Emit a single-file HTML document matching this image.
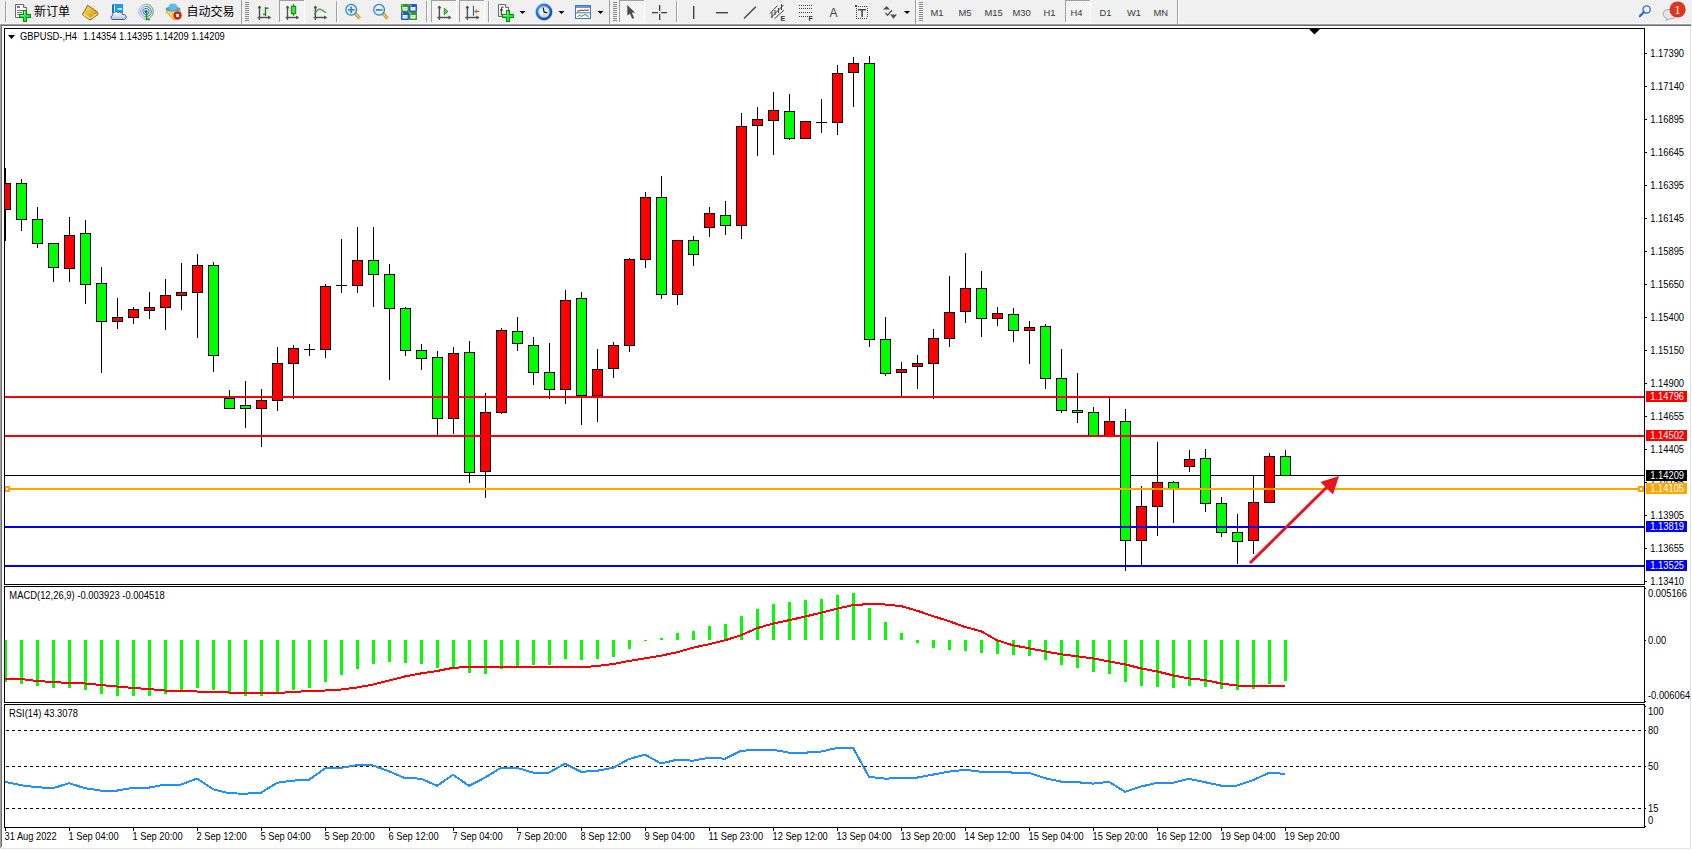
<!DOCTYPE html>
<html><head><meta charset="utf-8"><title>MT4 GBPUSD H4</title>
<style>
html,body{margin:0;padding:0;}
body{width:1692px;height:850px;overflow:hidden;background:#f0f0f0;position:relative;font-family:'Liberation Sans', Arial, sans-serif;}
</style></head><body>
<svg width="1692" height="850" viewBox="0 0 1692 850" shape-rendering="crispEdges" style="position:absolute;left:0;top:0">
<defs><clipPath id="cmain"><rect x="5" y="29" width="1639" height="555"/></clipPath>
<clipPath id="cmacd"><rect x="5" y="587" width="1639" height="115"/></clipPath>
<clipPath id="crsi"><rect x="5" y="705" width="1639" height="122"/></clipPath></defs>
<rect x="0" y="23" width="1691" height="1" fill="#f8f8f8"/><rect x="0" y="24" width="1691" height="1" fill="#a0a0a0"/><rect x="0" y="25" width="1691" height="1" fill="#6e6e6e"/><rect x="2" y="26" width="1690" height="824" fill="#ffffff"/><rect x="0" y="25" width="1" height="823" fill="#a0a0a0"/><rect x="1" y="25" width="1" height="822" fill="#6e6e6e"/><rect x="1690" y="26" width="1" height="823" fill="#e3e3e3"/><rect x="2" y="848" width="1689" height="1" fill="#e3e3e3"/>
<rect x="5" y="475" width="1639" height="1" fill="#000000"/><g clip-path="url(#cmain)"><rect x="5" y="168" width="1" height="73" fill="#000"/><rect x="0" y="183" width="11" height="27" fill="#000"/><rect x="1" y="184" width="9" height="25" fill="#ff0000"/><rect x="21" y="179" width="1" height="52" fill="#000"/><rect x="16" y="183" width="11" height="37" fill="#000"/><rect x="17" y="184" width="9" height="35" fill="#00ff00"/><rect x="37" y="207" width="1" height="41" fill="#000"/><rect x="32" y="219" width="11" height="25" fill="#000"/><rect x="33" y="220" width="9" height="23" fill="#00ff00"/><rect x="53" y="243" width="1" height="39" fill="#000"/><rect x="48" y="243" width="11" height="25" fill="#000"/><rect x="49" y="244" width="9" height="23" fill="#00ff00"/><rect x="69" y="217" width="1" height="65" fill="#000"/><rect x="64" y="235" width="11" height="34" fill="#000"/><rect x="65" y="236" width="9" height="32" fill="#ff0000"/><rect x="85" y="220" width="1" height="84" fill="#000"/><rect x="80" y="233" width="11" height="52" fill="#000"/><rect x="81" y="234" width="9" height="50" fill="#00ff00"/><rect x="101" y="267" width="1" height="106" fill="#000"/><rect x="96" y="283" width="11" height="39" fill="#000"/><rect x="97" y="284" width="9" height="37" fill="#00ff00"/><rect x="117" y="298" width="1" height="31" fill="#000"/><rect x="112" y="317" width="11" height="5" fill="#000"/><rect x="113" y="318" width="9" height="3" fill="#ff0000"/><rect x="133" y="307" width="1" height="17" fill="#000"/><rect x="128" y="309" width="11" height="9" fill="#000"/><rect x="129" y="310" width="9" height="7" fill="#ff0000"/><rect x="149" y="292" width="1" height="27" fill="#000"/><rect x="144" y="307" width="11" height="4" fill="#000"/><rect x="145" y="308" width="9" height="2" fill="#ff0000"/><rect x="165" y="279" width="1" height="51" fill="#000"/><rect x="160" y="295" width="11" height="13" fill="#000"/><rect x="161" y="296" width="9" height="11" fill="#ff0000"/><rect x="181" y="263" width="1" height="47" fill="#000"/><rect x="176" y="292" width="11" height="4" fill="#000"/><rect x="177" y="293" width="9" height="2" fill="#ff0000"/><rect x="197" y="254" width="1" height="84" fill="#000"/><rect x="192" y="265" width="11" height="28" fill="#000"/><rect x="193" y="266" width="9" height="26" fill="#ff0000"/><rect x="213" y="262" width="1" height="110" fill="#000"/><rect x="208" y="265" width="11" height="91" fill="#000"/><rect x="209" y="266" width="9" height="89" fill="#00ff00"/><rect x="229" y="390" width="1" height="19" fill="#000"/><rect x="224" y="398" width="11" height="11" fill="#000"/><rect x="225" y="399" width="9" height="9" fill="#00ff00"/><rect x="245" y="381" width="1" height="47" fill="#000"/><rect x="240" y="405" width="11" height="4" fill="#000"/><rect x="241" y="406" width="9" height="2" fill="#00ff00"/><rect x="261" y="389" width="1" height="58" fill="#000"/><rect x="256" y="400" width="11" height="9" fill="#000"/><rect x="257" y="401" width="9" height="7" fill="#ff0000"/><rect x="277" y="347" width="1" height="64" fill="#000"/><rect x="272" y="363" width="11" height="38" fill="#000"/><rect x="273" y="364" width="9" height="36" fill="#ff0000"/><rect x="293" y="345" width="1" height="54" fill="#000"/><rect x="288" y="348" width="11" height="16" fill="#000"/><rect x="289" y="349" width="9" height="14" fill="#ff0000"/><rect x="309" y="344" width="1" height="12" fill="#000"/><rect x="304" y="349" width="11" height="1" fill="#000"/><rect x="325" y="284" width="1" height="74" fill="#000"/><rect x="320" y="286" width="11" height="64" fill="#000"/><rect x="321" y="287" width="9" height="62" fill="#ff0000"/><rect x="341" y="239" width="1" height="54" fill="#000"/><rect x="336" y="285" width="11" height="1" fill="#000"/><rect x="357" y="227" width="1" height="66" fill="#000"/><rect x="352" y="260" width="11" height="26" fill="#000"/><rect x="353" y="261" width="9" height="24" fill="#ff0000"/><rect x="373" y="227" width="1" height="80" fill="#000"/><rect x="368" y="260" width="11" height="15" fill="#000"/><rect x="369" y="261" width="9" height="13" fill="#00ff00"/><rect x="389" y="264" width="1" height="116" fill="#000"/><rect x="384" y="274" width="11" height="35" fill="#000"/><rect x="385" y="275" width="9" height="33" fill="#00ff00"/><rect x="405" y="307" width="1" height="49" fill="#000"/><rect x="400" y="308" width="11" height="43" fill="#000"/><rect x="401" y="309" width="9" height="41" fill="#00ff00"/><rect x="421" y="344" width="1" height="26" fill="#000"/><rect x="416" y="350" width="11" height="9" fill="#000"/><rect x="417" y="351" width="9" height="7" fill="#00ff00"/><rect x="437" y="351" width="1" height="84" fill="#000"/><rect x="432" y="357" width="11" height="62" fill="#000"/><rect x="433" y="358" width="9" height="60" fill="#00ff00"/><rect x="453" y="347" width="1" height="87" fill="#000"/><rect x="448" y="353" width="11" height="66" fill="#000"/><rect x="449" y="354" width="9" height="64" fill="#ff0000"/><rect x="469" y="341" width="1" height="142" fill="#000"/><rect x="464" y="352" width="11" height="121" fill="#000"/><rect x="465" y="353" width="9" height="119" fill="#00ff00"/><rect x="485" y="393" width="1" height="105" fill="#000"/><rect x="480" y="412" width="11" height="60" fill="#000"/><rect x="481" y="413" width="9" height="58" fill="#ff0000"/><rect x="501" y="328" width="1" height="86" fill="#000"/><rect x="496" y="330" width="11" height="83" fill="#000"/><rect x="497" y="331" width="9" height="81" fill="#ff0000"/><rect x="517" y="317" width="1" height="34" fill="#000"/><rect x="512" y="331" width="11" height="13" fill="#000"/><rect x="513" y="332" width="9" height="11" fill="#00ff00"/><rect x="533" y="337" width="1" height="48" fill="#000"/><rect x="528" y="345" width="11" height="28" fill="#000"/><rect x="529" y="346" width="9" height="26" fill="#00ff00"/><rect x="549" y="343" width="1" height="56" fill="#000"/><rect x="544" y="372" width="11" height="18" fill="#000"/><rect x="545" y="373" width="9" height="16" fill="#00ff00"/><rect x="565" y="290" width="1" height="114" fill="#000"/><rect x="560" y="300" width="11" height="90" fill="#000"/><rect x="561" y="301" width="9" height="88" fill="#ff0000"/><rect x="581" y="292" width="1" height="133" fill="#000"/><rect x="576" y="298" width="11" height="98" fill="#000"/><rect x="577" y="299" width="9" height="96" fill="#00ff00"/><rect x="597" y="349" width="1" height="73" fill="#000"/><rect x="592" y="369" width="11" height="27" fill="#000"/><rect x="593" y="370" width="9" height="25" fill="#ff0000"/><rect x="613" y="342" width="1" height="36" fill="#000"/><rect x="608" y="345" width="11" height="24" fill="#000"/><rect x="609" y="346" width="9" height="22" fill="#ff0000"/><rect x="629" y="258" width="1" height="94" fill="#000"/><rect x="624" y="259" width="11" height="87" fill="#000"/><rect x="625" y="260" width="9" height="85" fill="#ff0000"/><rect x="645" y="192" width="1" height="76" fill="#000"/><rect x="640" y="197" width="11" height="63" fill="#000"/><rect x="641" y="198" width="9" height="61" fill="#ff0000"/><rect x="661" y="176" width="1" height="123" fill="#000"/><rect x="656" y="197" width="11" height="98" fill="#000"/><rect x="657" y="198" width="9" height="96" fill="#00ff00"/><rect x="677" y="240" width="1" height="65" fill="#000"/><rect x="672" y="240" width="11" height="55" fill="#000"/><rect x="673" y="241" width="9" height="53" fill="#ff0000"/><rect x="693" y="236" width="1" height="30" fill="#000"/><rect x="688" y="240" width="11" height="15" fill="#000"/><rect x="689" y="241" width="9" height="13" fill="#00ff00"/><rect x="709" y="207" width="1" height="30" fill="#000"/><rect x="704" y="213" width="11" height="15" fill="#000"/><rect x="705" y="214" width="9" height="13" fill="#ff0000"/><rect x="725" y="201" width="1" height="34" fill="#000"/><rect x="720" y="215" width="11" height="11" fill="#000"/><rect x="721" y="216" width="9" height="9" fill="#00ff00"/><rect x="741" y="113" width="1" height="126" fill="#000"/><rect x="736" y="126" width="11" height="100" fill="#000"/><rect x="737" y="127" width="9" height="98" fill="#ff0000"/><rect x="757" y="107" width="1" height="49" fill="#000"/><rect x="752" y="119" width="11" height="7" fill="#000"/><rect x="753" y="120" width="9" height="5" fill="#ff0000"/><rect x="773" y="92" width="1" height="63" fill="#000"/><rect x="768" y="110" width="11" height="11" fill="#000"/><rect x="769" y="111" width="9" height="9" fill="#ff0000"/><rect x="789" y="94" width="1" height="46" fill="#000"/><rect x="784" y="111" width="11" height="28" fill="#000"/><rect x="785" y="112" width="9" height="26" fill="#00ff00"/><rect x="805" y="121" width="1" height="18" fill="#000"/><rect x="800" y="121" width="11" height="18" fill="#000"/><rect x="801" y="122" width="9" height="16" fill="#ff0000"/><rect x="821" y="99" width="1" height="34" fill="#000"/><rect x="816" y="122" width="11" height="1" fill="#000"/><rect x="837" y="65" width="1" height="70" fill="#000"/><rect x="832" y="73" width="11" height="50" fill="#000"/><rect x="833" y="74" width="9" height="48" fill="#ff0000"/><rect x="853" y="57" width="1" height="50" fill="#000"/><rect x="848" y="63" width="11" height="10" fill="#000"/><rect x="849" y="64" width="9" height="8" fill="#ff0000"/><rect x="869" y="56" width="1" height="291" fill="#000"/><rect x="864" y="63" width="11" height="277" fill="#000"/><rect x="865" y="64" width="9" height="275" fill="#00ff00"/><rect x="885" y="317" width="1" height="59" fill="#000"/><rect x="880" y="339" width="11" height="35" fill="#000"/><rect x="881" y="340" width="9" height="33" fill="#00ff00"/><rect x="901" y="362" width="1" height="35" fill="#000"/><rect x="896" y="369" width="11" height="4" fill="#000"/><rect x="897" y="370" width="9" height="2" fill="#ff0000"/><rect x="917" y="355" width="1" height="34" fill="#000"/><rect x="912" y="363" width="11" height="4" fill="#000"/><rect x="913" y="364" width="9" height="2" fill="#ff0000"/><rect x="933" y="329" width="1" height="70" fill="#000"/><rect x="928" y="338" width="11" height="26" fill="#000"/><rect x="929" y="339" width="9" height="24" fill="#ff0000"/><rect x="949" y="276" width="1" height="71" fill="#000"/><rect x="944" y="312" width="11" height="27" fill="#000"/><rect x="945" y="313" width="9" height="25" fill="#ff0000"/><rect x="965" y="253" width="1" height="70" fill="#000"/><rect x="960" y="288" width="11" height="24" fill="#000"/><rect x="961" y="289" width="9" height="22" fill="#ff0000"/><rect x="981" y="271" width="1" height="66" fill="#000"/><rect x="976" y="288" width="11" height="31" fill="#000"/><rect x="977" y="289" width="9" height="29" fill="#00ff00"/><rect x="997" y="307" width="1" height="19" fill="#000"/><rect x="992" y="313" width="11" height="6" fill="#000"/><rect x="993" y="314" width="9" height="4" fill="#ff0000"/><rect x="1013" y="308" width="1" height="34" fill="#000"/><rect x="1008" y="314" width="11" height="17" fill="#000"/><rect x="1009" y="315" width="9" height="15" fill="#00ff00"/><rect x="1029" y="321" width="1" height="43" fill="#000"/><rect x="1024" y="327" width="11" height="4" fill="#000"/><rect x="1025" y="328" width="9" height="2" fill="#ff0000"/><rect x="1045" y="324" width="1" height="65" fill="#000"/><rect x="1040" y="326" width="11" height="53" fill="#000"/><rect x="1041" y="327" width="9" height="51" fill="#00ff00"/><rect x="1061" y="349" width="1" height="64" fill="#000"/><rect x="1056" y="378" width="11" height="33" fill="#000"/><rect x="1057" y="379" width="9" height="31" fill="#00ff00"/><rect x="1077" y="373" width="1" height="50" fill="#000"/><rect x="1072" y="410" width="11" height="3" fill="#000"/><rect x="1073" y="411" width="9" height="1" fill="#00ff00"/><rect x="1093" y="407" width="1" height="30" fill="#000"/><rect x="1088" y="412" width="11" height="25" fill="#000"/><rect x="1089" y="413" width="9" height="23" fill="#00ff00"/><rect x="1109" y="398" width="1" height="39" fill="#000"/><rect x="1104" y="421" width="11" height="16" fill="#000"/><rect x="1105" y="422" width="9" height="14" fill="#ff0000"/><rect x="1125" y="409" width="1" height="162" fill="#000"/><rect x="1120" y="421" width="11" height="120" fill="#000"/><rect x="1121" y="422" width="9" height="118" fill="#00ff00"/><rect x="1141" y="486" width="1" height="80" fill="#000"/><rect x="1136" y="506" width="11" height="35" fill="#000"/><rect x="1137" y="507" width="9" height="33" fill="#ff0000"/><rect x="1157" y="442" width="1" height="94" fill="#000"/><rect x="1152" y="482" width="11" height="25" fill="#000"/><rect x="1153" y="483" width="9" height="23" fill="#ff0000"/><rect x="1173" y="481" width="1" height="42" fill="#000"/><rect x="1168" y="482" width="11" height="7" fill="#000"/><rect x="1169" y="483" width="9" height="5" fill="#00ff00"/><rect x="1189" y="450" width="1" height="22" fill="#000"/><rect x="1184" y="459" width="11" height="8" fill="#000"/><rect x="1185" y="460" width="9" height="6" fill="#ff0000"/><rect x="1205" y="449" width="1" height="63" fill="#000"/><rect x="1200" y="458" width="11" height="46" fill="#000"/><rect x="1201" y="459" width="9" height="44" fill="#00ff00"/><rect x="1221" y="497" width="1" height="40" fill="#000"/><rect x="1216" y="503" width="11" height="30" fill="#000"/><rect x="1217" y="504" width="9" height="28" fill="#00ff00"/><rect x="1237" y="514" width="1" height="50" fill="#000"/><rect x="1232" y="532" width="11" height="10" fill="#000"/><rect x="1233" y="533" width="9" height="8" fill="#00ff00"/><rect x="1253" y="475" width="1" height="79" fill="#000"/><rect x="1248" y="502" width="11" height="39" fill="#000"/><rect x="1249" y="503" width="9" height="37" fill="#ff0000"/><rect x="1269" y="453" width="1" height="50" fill="#000"/><rect x="1264" y="456" width="11" height="47" fill="#000"/><rect x="1265" y="457" width="9" height="45" fill="#ff0000"/><rect x="1285" y="450" width="1" height="26" fill="#000"/><rect x="1280" y="456" width="11" height="20" fill="#000"/><rect x="1281" y="457" width="9" height="18" fill="#00ff00"/></g><rect x="5" y="396" width="1640" height="2" fill="#ff0000"/><rect x="5" y="435" width="1640" height="2" fill="#ff0000"/><rect x="5" y="488" width="1640" height="2" fill="#ffa500"/><rect x="5" y="526" width="1640" height="2" fill="#0000ff"/><rect x="5" y="565" width="1640" height="2" fill="#0000ff"/><rect x="4" y="486" width="6" height="6" fill="#ffa500"/><rect x="6" y="488" width="2" height="2" fill="#ffffff"/><rect x="1638" y="486" width="6" height="6" fill="#ffa500"/><rect x="1640" y="488" width="2" height="2" fill="#ffffff"/><g shape-rendering="auto"><line x1="1250" y1="563" x2="1327" y2="487" stroke="#e8141e" stroke-width="3" stroke-linecap="butt"/><polygon points="1339,476 1320.5,482 1333,494.5" fill="#e8141e"/></g><polygon points="1309,29 1320,29 1314.5,34.5" fill="#000" shape-rendering="auto"/>
<g clip-path="url(#cmacd)"><rect x="4" y="640" width="3" height="42" fill="#00ff00"/><rect x="20" y="640" width="3" height="44" fill="#00ff00"/><rect x="36" y="640" width="3" height="46" fill="#00ff00"/><rect x="52" y="640" width="3" height="48" fill="#00ff00"/><rect x="68" y="640" width="3" height="48" fill="#00ff00"/><rect x="84" y="640" width="3" height="50" fill="#00ff00"/><rect x="100" y="640" width="3" height="54" fill="#00ff00"/><rect x="116" y="640" width="3" height="56" fill="#00ff00"/><rect x="132" y="640" width="3" height="56" fill="#00ff00"/><rect x="148" y="640" width="3" height="56" fill="#00ff00"/><rect x="164" y="640" width="3" height="54" fill="#00ff00"/><rect x="180" y="640" width="3" height="50" fill="#00ff00"/><rect x="196" y="640" width="3" height="48" fill="#00ff00"/><rect x="212" y="640" width="3" height="50" fill="#00ff00"/><rect x="228" y="640" width="3" height="54" fill="#00ff00"/><rect x="244" y="640" width="3" height="56" fill="#00ff00"/><rect x="260" y="640" width="3" height="56" fill="#00ff00"/><rect x="276" y="640" width="3" height="54" fill="#00ff00"/><rect x="292" y="640" width="3" height="50" fill="#00ff00"/><rect x="308" y="640" width="3" height="48" fill="#00ff00"/><rect x="324" y="640" width="3" height="42" fill="#00ff00"/><rect x="340" y="640" width="3" height="35" fill="#00ff00"/><rect x="356" y="640" width="3" height="29" fill="#00ff00"/><rect x="372" y="640" width="3" height="24" fill="#00ff00"/><rect x="388" y="640" width="3" height="22" fill="#00ff00"/><rect x="404" y="640" width="3" height="23" fill="#00ff00"/><rect x="420" y="640" width="3" height="24" fill="#00ff00"/><rect x="436" y="640" width="3" height="28" fill="#00ff00"/><rect x="452" y="640" width="3" height="27" fill="#00ff00"/><rect x="468" y="640" width="3" height="33" fill="#00ff00"/><rect x="484" y="640" width="3" height="34" fill="#00ff00"/><rect x="500" y="640" width="3" height="29" fill="#00ff00"/><rect x="516" y="640" width="3" height="26" fill="#00ff00"/><rect x="532" y="640" width="3" height="25" fill="#00ff00"/><rect x="548" y="640" width="3" height="25" fill="#00ff00"/><rect x="564" y="640" width="3" height="19" fill="#00ff00"/><rect x="580" y="640" width="3" height="20" fill="#00ff00"/><rect x="596" y="640" width="3" height="19" fill="#00ff00"/><rect x="612" y="640" width="3" height="17" fill="#00ff00"/><rect x="628" y="640" width="3" height="9" fill="#00ff00"/><rect x="644" y="640" width="3" height="1" fill="#00ff00"/><rect x="660" y="638" width="3" height="2" fill="#00ff00"/><rect x="676" y="633" width="3" height="7" fill="#00ff00"/><rect x="692" y="631" width="3" height="9" fill="#00ff00"/><rect x="708" y="626" width="3" height="14" fill="#00ff00"/><rect x="724" y="624" width="3" height="16" fill="#00ff00"/><rect x="740" y="616" width="3" height="24" fill="#00ff00"/><rect x="756" y="609" width="3" height="31" fill="#00ff00"/><rect x="772" y="604" width="3" height="36" fill="#00ff00"/><rect x="788" y="602" width="3" height="38" fill="#00ff00"/><rect x="804" y="600" width="3" height="40" fill="#00ff00"/><rect x="820" y="599" width="3" height="41" fill="#00ff00"/><rect x="836" y="595" width="3" height="45" fill="#00ff00"/><rect x="852" y="593" width="3" height="47" fill="#00ff00"/><rect x="868" y="608" width="3" height="32" fill="#00ff00"/><rect x="884" y="622" width="3" height="18" fill="#00ff00"/><rect x="900" y="633" width="3" height="7" fill="#00ff00"/><rect x="916" y="640" width="3" height="3" fill="#00ff00"/><rect x="932" y="640" width="3" height="8" fill="#00ff00"/><rect x="948" y="640" width="3" height="10" fill="#00ff00"/><rect x="964" y="640" width="3" height="11" fill="#00ff00"/><rect x="980" y="640" width="3" height="13" fill="#00ff00"/><rect x="996" y="640" width="3" height="14" fill="#00ff00"/><rect x="1012" y="640" width="3" height="15" fill="#00ff00"/><rect x="1028" y="640" width="3" height="16" fill="#00ff00"/><rect x="1044" y="640" width="3" height="20" fill="#00ff00"/><rect x="1060" y="640" width="3" height="25" fill="#00ff00"/><rect x="1076" y="640" width="3" height="28" fill="#00ff00"/><rect x="1092" y="640" width="3" height="32" fill="#00ff00"/><rect x="1108" y="640" width="3" height="34" fill="#00ff00"/><rect x="1124" y="640" width="3" height="42" fill="#00ff00"/><rect x="1140" y="640" width="3" height="46" fill="#00ff00"/><rect x="1156" y="640" width="3" height="47" fill="#00ff00"/><rect x="1172" y="640" width="3" height="48" fill="#00ff00"/><rect x="1188" y="640" width="3" height="46" fill="#00ff00"/><rect x="1204" y="640" width="3" height="47" fill="#00ff00"/><rect x="1220" y="640" width="3" height="49" fill="#00ff00"/><rect x="1236" y="640" width="3" height="50" fill="#00ff00"/><rect x="1252" y="640" width="3" height="49" fill="#00ff00"/><rect x="1268" y="640" width="3" height="44" fill="#00ff00"/><rect x="1284" y="640" width="3" height="41" fill="#00ff00"/><polyline points="5,678.8 21,679.0 37,681.0 53,682.0 69,683.0 85,683.5 101,685.0 117,686.5 133,688.0 149,689.0 165,690.5 181,691.0 197,691.5 213,692.0 229,692.5 245,692.5 261,693.0 277,693.0 293,692.0 309,691.0 325,690.5 341,689.5 357,687.5 373,684.5 389,680.5 405,676.4 421,673.4 437,671.0 453,667.8 469,667.0 485,666.6 501,667.4 517,667.4 533,667.4 549,667.4 565,667.4 581,667.4 597,666.0 613,664.0 629,661.0 645,658.4 661,655.7 677,652.3 693,647.7 709,644.3 725,640.3 741,635.2 757,628.2 773,623.6 789,620.2 805,616.6 821,612.7 837,608.7 853,605.1 869,604.1 885,604.5 901,606.1 917,610.7 933,616.1 949,621.2 965,627.0 981,631.2 997,640.3 1013,645.3 1029,648.3 1045,651.3 1061,654.3 1077,656.3 1093,658.4 1109,661.4 1125,664.4 1141,668.4 1157,671.4 1173,675.4 1189,678.4 1205,680.0 1221,683.5 1237,685.5 1253,685.9 1269,685.9 1285,685.9" fill="none" stroke="#ff0000" stroke-width="2" shape-rendering="crispEdges"/></g>
<g clip-path="url(#crsi)"><line x1="6" y1="730.5" x2="1642" y2="730.5" stroke="#000" stroke-width="1" stroke-dasharray="3 3"/><line x1="6" y1="766.5" x2="1642" y2="766.5" stroke="#000" stroke-width="1" stroke-dasharray="3 3"/><line x1="6" y1="808.5" x2="1642" y2="808.5" stroke="#000" stroke-width="1" stroke-dasharray="3 3"/><polyline points="5,781.8 21,785.2 37,787.2 53,788.2 69,783.2 85,788.2 101,790.6 117,790.6 133,787.8 149,787.6 165,784.6 181,784.6 197,778.6 213,789.2 229,793.3 245,793.7 261,792.7 277,782.8 293,780.6 309,779.8 325,768.5 341,767.8 357,765.1 373,765.5 389,771.2 405,778.2 421,778.6 437,785.8 453,774.8 469,785.8 485,777.6 501,767.8 517,767.8 533,772.6 549,772.6 565,763.7 581,771.8 597,770.8 613,767.8 629,759.1 645,754.6 661,763.5 677,759.7 693,760.7 709,757.7 725,758.7 741,750.7 757,750.1 773,749.7 789,752.7 805,752.7 821,751.5 837,748.1 853,747.7 869,776.8 885,778.6 901,778.2 917,777.6 933,774.6 949,771.6 965,769.8 981,771.8 997,771.6 1013,772.6 1029,772.8 1045,778.2 1061,781.6 1077,782.2 1093,783.6 1109,781.8 1125,791.8 1141,786.6 1157,782.8 1173,782.8 1189,778.8 1205,782.2 1221,785.6 1237,785.6 1253,780.2 1269,772.8 1285,773.8" fill="none" stroke="#1e90ff" stroke-width="2" shape-rendering="crispEdges"/></g>
<rect x="4" y="28" width="1641" height="1" fill="#000"/><rect x="4" y="584" width="1641" height="1" fill="#000"/><rect x="4" y="28" width="1" height="557" fill="#000"/><rect x="1644" y="28" width="1" height="557" fill="#000"/><rect x="4" y="586" width="1641" height="1" fill="#000"/><rect x="4" y="702" width="1641" height="1" fill="#000"/><rect x="4" y="586" width="1" height="117" fill="#000"/><rect x="1644" y="586" width="1" height="117" fill="#000"/><rect x="4" y="704" width="1641" height="1" fill="#000"/><rect x="4" y="827" width="1641" height="1" fill="#000"/><rect x="4" y="704" width="1" height="124" fill="#000"/><rect x="1644" y="704" width="1" height="124" fill="#000"/>
<rect x="1645" y="53" width="2" height="1" fill="#000"/><rect x="1645" y="86" width="2" height="1" fill="#000"/><rect x="1645" y="119" width="2" height="1" fill="#000"/><rect x="1645" y="152" width="2" height="1" fill="#000"/><rect x="1645" y="185" width="2" height="1" fill="#000"/><rect x="1645" y="218" width="2" height="1" fill="#000"/><rect x="1645" y="251" width="2" height="1" fill="#000"/><rect x="1645" y="284" width="2" height="1" fill="#000"/><rect x="1645" y="317" width="2" height="1" fill="#000"/><rect x="1645" y="350" width="2" height="1" fill="#000"/><rect x="1645" y="383" width="2" height="1" fill="#000"/><rect x="1645" y="416" width="2" height="1" fill="#000"/><rect x="1645" y="449" width="2" height="1" fill="#000"/><rect x="1645" y="482" width="2" height="1" fill="#000"/><rect x="1645" y="515" width="2" height="1" fill="#000"/><rect x="1645" y="548" width="2" height="1" fill="#000"/><rect x="1645" y="581" width="2" height="1" fill="#000"/><rect x="1645" y="588" width="1" height="1" fill="#000"/><rect x="1645" y="640" width="1" height="1" fill="#000"/><rect x="1645" y="701" width="1" height="1" fill="#000"/><rect x="1645" y="706" width="1" height="1" fill="#000"/><rect x="1645" y="730" width="1" height="1" fill="#000"/><rect x="1645" y="766" width="1" height="1" fill="#000"/><rect x="1645" y="808" width="1" height="1" fill="#000"/><rect x="1645" y="826" width="1" height="1" fill="#000"/><rect x="5" y="828" width="1" height="3" fill="#000"/><rect x="69" y="828" width="1" height="3" fill="#000"/><rect x="133" y="828" width="1" height="3" fill="#000"/><rect x="197" y="828" width="1" height="3" fill="#000"/><rect x="261" y="828" width="1" height="3" fill="#000"/><rect x="325" y="828" width="1" height="3" fill="#000"/><rect x="389" y="828" width="1" height="3" fill="#000"/><rect x="453" y="828" width="1" height="3" fill="#000"/><rect x="517" y="828" width="1" height="3" fill="#000"/><rect x="581" y="828" width="1" height="3" fill="#000"/><rect x="645" y="828" width="1" height="3" fill="#000"/><rect x="709" y="828" width="1" height="3" fill="#000"/><rect x="773" y="828" width="1" height="3" fill="#000"/><rect x="837" y="828" width="1" height="3" fill="#000"/><rect x="901" y="828" width="1" height="3" fill="#000"/><rect x="965" y="828" width="1" height="3" fill="#000"/><rect x="1029" y="828" width="1" height="3" fill="#000"/><rect x="1093" y="828" width="1" height="3" fill="#000"/><rect x="1157" y="828" width="1" height="3" fill="#000"/><rect x="1221" y="828" width="1" height="3" fill="#000"/><rect x="1285" y="828" width="1" height="3" fill="#000"/>
<g font-family="'Liberation Sans', Arial, sans-serif" font-size="10px"><text transform="matrix(0.935,0,0,1,1650.3,57)" fill="#000">1.17390</text><text transform="matrix(0.935,0,0,1,1650.3,90)" fill="#000">1.17140</text><text transform="matrix(0.935,0,0,1,1650.3,123)" fill="#000">1.16895</text><text transform="matrix(0.935,0,0,1,1650.3,156)" fill="#000">1.16645</text><text transform="matrix(0.935,0,0,1,1650.3,189)" fill="#000">1.16395</text><text transform="matrix(0.935,0,0,1,1650.3,222)" fill="#000">1.16145</text><text transform="matrix(0.935,0,0,1,1650.3,255)" fill="#000">1.15895</text><text transform="matrix(0.935,0,0,1,1650.3,288)" fill="#000">1.15650</text><text transform="matrix(0.935,0,0,1,1650.3,321)" fill="#000">1.15400</text><text transform="matrix(0.935,0,0,1,1650.3,354)" fill="#000">1.15150</text><text transform="matrix(0.935,0,0,1,1650.3,387)" fill="#000">1.14900</text><text transform="matrix(0.935,0,0,1,1650.3,420)" fill="#000">1.14655</text><text transform="matrix(0.935,0,0,1,1650.3,453)" fill="#000">1.14405</text><text transform="matrix(0.935,0,0,1,1650.3,486)" fill="#000">1.14155</text><text transform="matrix(0.935,0,0,1,1650.3,519)" fill="#000">1.13905</text><text transform="matrix(0.935,0,0,1,1650.3,552)" fill="#000">1.13655</text><text transform="matrix(0.935,0,0,1,1650.3,585)" fill="#000">1.13410</text><text transform="matrix(0.935,0,0,1,1648,597)" fill="#000">0.005166</text><text transform="matrix(0.935,0,0,1,1648,644)" fill="#000">0.00</text><text transform="matrix(0.935,0,0,1,1648,699)" fill="#000">-0.006064</text><text transform="matrix(0.935,0,0,1,1648,715)" fill="#000">100</text><text transform="matrix(0.935,0,0,1,1648,734)" fill="#000">80</text><text transform="matrix(0.935,0,0,1,1648,770)" fill="#000">50</text><text transform="matrix(0.935,0,0,1,1648,812)" fill="#000">15</text><text transform="matrix(0.935,0,0,1,1648,824)" fill="#000">0</text><text transform="matrix(0.93,0,0,1,4.5,840)" fill="#000">31 Aug 2022</text><text transform="matrix(0.93,0,0,1,68.5,840)" fill="#000">1 Sep 04:00</text><text transform="matrix(0.93,0,0,1,132.5,840)" fill="#000">1 Sep 20:00</text><text transform="matrix(0.93,0,0,1,196.5,840)" fill="#000">2 Sep 12:00</text><text transform="matrix(0.93,0,0,1,260.5,840)" fill="#000">5 Sep 04:00</text><text transform="matrix(0.93,0,0,1,324.5,840)" fill="#000">5 Sep 20:00</text><text transform="matrix(0.93,0,0,1,388.5,840)" fill="#000">6 Sep 12:00</text><text transform="matrix(0.93,0,0,1,452.5,840)" fill="#000">7 Sep 04:00</text><text transform="matrix(0.93,0,0,1,516.5,840)" fill="#000">7 Sep 20:00</text><text transform="matrix(0.93,0,0,1,580.5,840)" fill="#000">8 Sep 12:00</text><text transform="matrix(0.93,0,0,1,644.5,840)" fill="#000">9 Sep 04:00</text><text transform="matrix(0.93,0,0,1,708.5,840)" fill="#000">11 Sep 23:00</text><text transform="matrix(0.93,0,0,1,772.5,840)" fill="#000">12 Sep 12:00</text><text transform="matrix(0.93,0,0,1,836.5,840)" fill="#000">13 Sep 04:00</text><text transform="matrix(0.93,0,0,1,900.5,840)" fill="#000">13 Sep 20:00</text><text transform="matrix(0.93,0,0,1,964.5,840)" fill="#000">14 Sep 12:00</text><text transform="matrix(0.93,0,0,1,1028.5,840)" fill="#000">15 Sep 04:00</text><text transform="matrix(0.93,0,0,1,1092.5,840)" fill="#000">15 Sep 20:00</text><text transform="matrix(0.93,0,0,1,1156.5,840)" fill="#000">16 Sep 12:00</text><text transform="matrix(0.93,0,0,1,1220.5,840)" fill="#000">19 Sep 04:00</text><text transform="matrix(0.93,0,0,1,1284.5,840)" fill="#000">19 Sep 20:00</text><text transform="matrix(0.942,0,0,1,9.3,599)" fill="#000">MACD(12,26,9) -0.003923 -0.004518</text><text transform="matrix(0.942,0,0,1,9,717)" fill="#000">RSI(14) 43.3078</text></g>
<rect x="1646" y="391" width="41" height="11" fill="#ff0000"/><rect x="1646" y="430" width="41" height="11" fill="#ff0000"/><rect x="1646" y="470" width="41" height="11" fill="#000000"/><rect x="1646" y="483" width="41" height="11" fill="#ffa500"/><rect x="1646" y="521" width="41" height="11" fill="#0000ff"/><rect x="1646" y="560" width="41" height="11" fill="#0000ff"/>
<g font-family="'Liberation Sans', Arial, sans-serif" font-size="10px"><text transform="matrix(0.935,0,0,1,1650.3,400)" fill="#fff">1.14796</text><text transform="matrix(0.935,0,0,1,1650.3,439)" fill="#fff">1.14502</text><text transform="matrix(0.935,0,0,1,1650.3,479)" fill="#fff">1.14209</text><text transform="matrix(0.935,0,0,1,1650.3,492)" fill="#fff">1.14105</text><text transform="matrix(0.935,0,0,1,1650.3,530)" fill="#fff">1.13819</text><text transform="matrix(0.935,0,0,1,1650.3,569)" fill="#fff">1.13525</text></g>
</svg>
<svg style="position:absolute;left:0;top:0" width="300" height="45"><text transform="matrix(0.933,0,0,1,20,40)" font-family="'Liberation Sans', Arial, sans-serif" font-size="10px" fill="#000">GBPUSD-,H4</text><text transform="matrix(0.927,0,0,1,83.0,40)" font-family="'Liberation Sans', Arial, sans-serif" font-size="10px" fill="#000">1.14354 1.14395 1.14209 1.14209</text></svg>
<svg style="position:absolute;left:0;top:0" width="20" height="45"><polygon points="8,35 15,35 11.5,39" fill="#000"/></svg>
<svg width="1692" height="24" viewBox="0 0 1692 24" style="position:absolute;left:0;top:0"><defs><pattern id="chk" width="2" height="2" patternUnits="userSpaceOnUse"><rect width="2" height="2" fill="#fbfbfb"/><rect width="1" height="1" fill="#ececec"/><rect x="1" y="1" width="1" height="1" fill="#ececec"/></pattern><linearGradient id="gplus" x1="0" y1="0" x2="0" y2="1"><stop offset="0" stop-color="#7dff7d"/><stop offset="1" stop-color="#10c010"/></linearGradient><linearGradient id="gold" x1="0" y1="0" x2="1" y2="1"><stop offset="0" stop-color="#ffe680"/><stop offset="0.6" stop-color="#e0b020"/><stop offset="1" stop-color="#a06a10"/></linearGradient><linearGradient id="blu" x1="0" y1="0" x2="0" y2="1"><stop offset="0" stop-color="#5aa8f0"/><stop offset="1" stop-color="#1050c0"/></linearGradient><radialGradient id="lens" cx="0.45" cy="0.4" r="0.6"><stop offset="0" stop-color="#ffffff"/><stop offset="1" stop-color="#bfe4fb"/></radialGradient><linearGradient id="cloudg" x1="0" y1="0" x2="0" y2="1"><stop offset="0" stop-color="#ffffff"/><stop offset="1" stop-color="#b8c4dc"/></linearGradient><radialGradient id="clockring" cx="0.35" cy="0.3" r="0.8"><stop offset="0" stop-color="#5ab0ff"/><stop offset="0.6" stop-color="#1a78e0"/><stop offset="1" stop-color="#0a4aa8"/></radialGradient><radialGradient id="clockface" cx="0.5" cy="0.4" r="0.6"><stop offset="0" stop-color="#ffffff"/><stop offset="1" stop-color="#e4e8ee"/></radialGradient></defs><rect x="5" y="1" width="1" height="21" fill="#a0a0a0"/><rect x="6" y="1" width="1" height="21" fill="#ffffff"/><path d="M15.5,4.5 h8 l3,3 v10 h-11 z" fill="#ffffff" stroke="#6a6a6a" stroke-width="1"/><path d="M23.5,4.5 v3 h3" fill="#ffffff" stroke="#6a6a6a" stroke-width="1"/><g fill="#7a7a7a" shape-rendering="crispEdges"><rect x="17" y="6" width="3" height="2"/><rect x="17" y="10" width="6" height="1"/><rect x="17" y="12" width="5" height="1"/><rect x="17" y="14" width="3" height="1"/></g><g shape-rendering="crispEdges"><rect x="23" y="10" width="4" height="12" fill="#0b870b"/><rect x="19" y="14" width="12" height="4" fill="#0b870b"/><rect x="24" y="11" width="2" height="10" fill="#19f035"/><rect x="20" y="15" width="10" height="2" fill="#19f035"/><rect x="24" y="11" width="1" height="4" fill="#8cffa0"/><rect x="20" y="15" width="4" height="1" fill="#8cffa0"/></g><path d="M87.5,5.2 L97.2,11.8 L98.2,14.3 L90.2,20 L82.2,14.4 L85.8,9 Z" fill="url(#gold)" stroke="#9a5a08" stroke-width="1"/><path d="M83.5,14.2 L90.2,18.6" fill="none" stroke="#fff0b0" stroke-width="1.2"/><path d="M90.6,18.6 L97.4,13.4" fill="none" stroke="#e8dca0" stroke-width="1.2"/><path d="M112,5 L114,4 L123,4 L123,13 L112,13 Z" fill="#1b9cf0"/><path d="M112,5 L114,4 L114.5,13 L112,13 Z" fill="#0a78d8"/><path d="M114.5,5 L114.5,12.5" stroke="#ffffff" stroke-width="1"/><rect x="117.5" y="8.2" width="4.5" height="1.6" fill="#e8f6ff"/><path d="M112,19.5 A2.4,2.4 0 0 1 112.6,15.3 A3.3,3.3 0 0 1 118.2,12.6 A2.8,2.8 0 0 1 122.6,14.6 A2.5,2.5 0 0 1 124.6,19.5 Z" fill="url(#cloudg)" stroke="#3c5a98" stroke-width="1"/><g fill="none" stroke-width="1"><circle cx="146" cy="11.5" r="7.3" stroke="#9fb8e0"/><circle cx="146" cy="11.5" r="5.2" stroke="#6f95d6"/><circle cx="146" cy="11.5" r="3.1" stroke="#3b6fd0"/><path d="M146,4.2 A7.3,7.3 0 0 1 146,18.8" stroke="#7ab77a"/><path d="M146,6.3 A5.2,5.2 0 0 1 146,16.7" stroke="#5aa85a"/></g><circle cx="146" cy="11.5" r="1.6" fill="#2050c0"/><path d="M146.5,12 V19.5 H150" fill="none" stroke="#1ea01e" stroke-width="1.6"/><path d="M166,12 L174,20 L181,14 L180,10 L167,10 Z" fill="#f2d64a" stroke="#c8a020" stroke-width="0.8"/><ellipse cx="173" cy="9" rx="7.5" ry="2.6" fill="#4aa0dc"/><ellipse cx="173" cy="7" rx="4.3" ry="3.4" fill="#66b8ea"/><circle cx="177.5" cy="15.5" r="4.2" fill="#d42010"/><rect x="176" y="14" width="3" height="3" fill="#fff"/><text x="34" y="15.5" font-family="'Liberation Sans', 'Noto Sans CJK SC', 'WenQuanYi Zen Hei', sans-serif" font-size="12px" fill="#000">新订单</text><text x="186.5" y="15.5" font-family="'Liberation Sans', 'Noto Sans CJK SC', 'WenQuanYi Zen Hei', sans-serif" font-size="12px" fill="#000">自动交易</text><rect x="241" y="0" width="1" height="24" fill="#a0a0a0"/><rect x="242" y="0" width="1" height="24" fill="#ffffff"/><rect x="245" y="2" width="4" height="1" fill="#8a8a8a"/><rect x="245" y="4" width="4" height="1" fill="#8a8a8a"/><rect x="245" y="6" width="4" height="1" fill="#8a8a8a"/><rect x="245" y="8" width="4" height="1" fill="#8a8a8a"/><rect x="245" y="10" width="4" height="1" fill="#8a8a8a"/><rect x="245" y="12" width="4" height="1" fill="#8a8a8a"/><rect x="245" y="14" width="4" height="1" fill="#8a8a8a"/><rect x="245" y="16" width="4" height="1" fill="#8a8a8a"/><rect x="245" y="18" width="4" height="1" fill="#8a8a8a"/><rect x="245" y="20" width="4" height="1" fill="#8a8a8a"/><g stroke="#505050" stroke-width="1.4" fill="none"><line x1="259.5" y1="6" x2="259.5" y2="20"/><line x1="257.5" y1="17.5" x2="270.5" y2="17.5"/></g><polygon points="257.5,8.2 259.5,5.5 261.5,8.2" fill="#505050"/><polygon points="268.0,15.5 271.0,17.5 268.0,19.5" fill="#505050"/><g stroke="#0a8a0a" stroke-width="1.3" fill="none"><line x1="265.5" y1="7" x2="265.5" y2="16"/><line x1="265.5" y1="8.2" x2="268.5" y2="8.2"/><line x1="263" y1="14.3" x2="265.5" y2="14.3"/></g><rect x="279" y="0" width="25" height="22" fill="url(#chk)"/><rect x="279" y="0" width="25" height="1" fill="#a0a0a0"/><rect x="279" y="0" width="1" height="22" fill="#a0a0a0"/><rect x="279" y="22" width="26" height="1" fill="#ffffff"/><rect x="304" y="0" width="1" height="23" fill="#ffffff"/><g stroke="#505050" stroke-width="1.4" fill="none"><line x1="287.5" y1="6" x2="287.5" y2="20"/><line x1="285.5" y1="17.5" x2="298.5" y2="17.5"/></g><polygon points="285.5,8.2 287.5,5.5 289.5,8.2" fill="#505050"/><polygon points="296.0,15.5 299.0,17.5 296.0,19.5" fill="#505050"/><line x1="293.5" y1="4.2" x2="293.5" y2="15.8" stroke="#0a8a0a" stroke-width="1.3"/><rect x="291.3" y="6.3" width="4.4" height="7.4" fill="#3ee03e" stroke="#0a8a0a" stroke-width="1"/><g stroke="#505050" stroke-width="1.4" fill="none"><line x1="315.4" y1="6" x2="315.4" y2="20"/><line x1="313.5" y1="17.5" x2="326.5" y2="17.5"/></g><polygon points="313.4,8.2 315.4,5.5 317.4,8.2" fill="#505050"/><polygon points="324.0,15.5 327.0,17.5 324.0,19.5" fill="#505050"/><path d="M314.3,14.3 Q318,8 320.5,9.3 T325.8,12.8" fill="none" stroke="#2a9a2a" stroke-width="1.2"/><rect x="336" y="1" width="1" height="21" fill="#a0a0a0"/><rect x="337" y="1" width="1" height="21" fill="#ffffff"/><line x1="355.2" y1="13.6" x2="359.7" y2="18.3" stroke="#b88a10" stroke-width="3.2"/><line x1="355.2" y1="13.6" x2="359.7" y2="18.3" stroke="#f0d050" stroke-width="1.6"/><circle cx="351.2" cy="9.8" r="5.4" fill="url(#lens)" stroke="#2d7fd4" stroke-width="1.2"/><rect x="347.9" y="9" width="6.6" height="1.8" fill="#4a88b0"/><rect x="350.3" y="6.5" width="1.8" height="6.6" fill="#4a88b0"/><line x1="383.1" y1="13.6" x2="387.6" y2="18.3" stroke="#b88a10" stroke-width="3.2"/><line x1="383.1" y1="13.6" x2="387.6" y2="18.3" stroke="#f0d050" stroke-width="1.6"/><circle cx="379.1" cy="9.8" r="5.4" fill="url(#lens)" stroke="#2d7fd4" stroke-width="1.2"/><rect x="375.8" y="9" width="6.6" height="1.8" fill="#4a88b0"/><g><rect x="401" y="4" width="8" height="8" rx="1" fill="#2aa020"/><rect x="409" y="4" width="8" height="8" rx="1" fill="#2058d8"/><rect x="401" y="12" width="8" height="8" rx="1" fill="#2058d8"/><rect x="409" y="12" width="8" height="8" rx="1" fill="#2aa020"/><g fill="#ffffff"><rect x="402.5" y="7" width="5" height="3.5"/><rect x="410.5" y="7" width="5" height="3.5"/><rect x="402.5" y="15" width="5" height="3.5"/><rect x="410.5" y="15" width="5" height="3.5"/><rect x="402" y="5" width="1" height="1"/><rect x="410" y="5" width="1" height="1"/><rect x="402" y="13" width="1" height="1"/><rect x="410" y="13" width="1" height="1"/></g><g fill="#8ccf80"><rect x="403.5" y="8" width="3" height="0.8"/><rect x="411.5" y="16" width="3" height="0.8"/></g><g fill="#8aa8f0"><rect x="411.5" y="8.3" width="1" height="1"/><rect x="413.5" y="8.3" width="1" height="1"/><rect x="403.5" y="16.3" width="1" height="1"/><rect x="405.5" y="16.3" width="1" height="1"/></g></g><rect x="426" y="1" width="1" height="21" fill="#a0a0a0"/><rect x="427" y="1" width="1" height="21" fill="#ffffff"/><rect x="431" y="0" width="25" height="22" fill="url(#chk)"/><rect x="431" y="0" width="25" height="1" fill="#a0a0a0"/><rect x="431" y="0" width="1" height="22" fill="#a0a0a0"/><rect x="431" y="22" width="26" height="1" fill="#ffffff"/><rect x="456" y="0" width="1" height="23" fill="#ffffff"/><g stroke="#505050" stroke-width="1.4" fill="none"><line x1="439.4" y1="6" x2="439.4" y2="20"/><line x1="437.3" y1="17.5" x2="450.9" y2="17.5"/></g><polygon points="437.4,8.2 439.4,5.5 441.4,8.2" fill="#505050"/><polygon points="448.4,15.5 451.4,17.5 448.4,19.5" fill="#505050"/><polygon points="444.3,8.3 448,11.5 444.3,14.7" fill="#60d060" stroke="#1a9a1a" stroke-width="1"/><rect x="459" y="0" width="25" height="22" fill="url(#chk)"/><rect x="459" y="0" width="25" height="1" fill="#a0a0a0"/><rect x="459" y="0" width="1" height="22" fill="#a0a0a0"/><rect x="459" y="22" width="26" height="1" fill="#ffffff"/><rect x="484" y="0" width="1" height="23" fill="#ffffff"/><g stroke="#505050" stroke-width="1.4" fill="none"><line x1="467.4" y1="6" x2="467.4" y2="20"/><line x1="465.2" y1="17.5" x2="478.8" y2="17.5"/></g><polygon points="465.4,8.2 467.4,5.5 469.4,8.2" fill="#505050"/><polygon points="476.3,15.5 479.3,17.5 476.3,19.5" fill="#505050"/><line x1="473.5" y1="6" x2="473.5" y2="15.8" stroke="#1a6aa8" stroke-width="1.2"/><polygon points="474.3,11.4 477,9 476.5,10.8 479,10.8 479,12 476.5,12 477,13.8" fill="#e05010"/><rect x="488" y="1" width="1" height="21" fill="#a0a0a0"/><rect x="489" y="1" width="1" height="21" fill="#ffffff"/><path d="M498.5,4.5 h7 l3,3 v9 h-10 z" fill="#ffffff" stroke="#6a6a6a" stroke-width="1"/><path d="M505.5,4.5 v3 h3" fill="#ffffff" stroke="#6a6a6a" stroke-width="1"/><path d="M503.5,7.2 Q501.5,6.6 501.3,9 L501.3,15.5 M500,10 L503,10" fill="none" stroke="#3a3020" stroke-width="1.1"/><g shape-rendering="crispEdges"><rect x="506" y="10" width="4" height="12" fill="#0b870b"/><rect x="502" y="14" width="12" height="4" fill="#0b870b"/><rect x="507" y="11" width="2" height="10" fill="#19f035"/><rect x="503" y="15" width="10" height="2" fill="#19f035"/><rect x="507" y="11" width="1" height="4" fill="#8cffa0"/><rect x="503" y="15" width="4" height="1" fill="#8cffa0"/></g><polygon points="519.5,11 525.5,11 522.5,14" fill="#000"/><circle cx="544" cy="12" r="6.9" fill="url(#clockface)" stroke="url(#clockring)" stroke-width="2.6"/><circle cx="544" cy="12" r="8.3" fill="none" stroke="#0a4a9a" stroke-width="0.5" opacity="0.6"/><g fill="#909090"><rect x="548.2" y="11.6" width="0.8" height="0.8"/><rect x="547.6" y="13.9" width="0.8" height="0.8"/><rect x="545.9" y="15.6" width="0.8" height="0.8"/><rect x="543.6" y="16.2" width="0.8" height="0.8"/><rect x="541.3" y="15.6" width="0.8" height="0.8"/><rect x="539.6" y="13.9" width="0.8" height="0.8"/><rect x="539.0" y="11.6" width="0.8" height="0.8"/><rect x="539.6" y="9.3" width="0.8" height="0.8"/><rect x="541.3" y="7.6" width="0.8" height="0.8"/><rect x="543.6" y="7.0" width="0.8" height="0.8"/><rect x="545.9" y="7.6" width="0.8" height="0.8"/><rect x="547.6" y="9.3" width="0.8" height="0.8"/></g><path d="M543.3,7.6 L544,12 L547.2,12.8" fill="none" stroke="#1a1a1a" stroke-width="1.3" stroke-linejoin="round"/><rect x="543" y="14.5" width="2.5" height="0.8" fill="#6aaaf0"/><polygon points="558.5,11 564.5,11 561.5,14" fill="#000"/><rect x="575.5" y="5.5" width="15" height="13" fill="#ffffff" stroke="#3a78c8" stroke-width="1"/><rect x="576" y="6" width="14" height="2" fill="#5a9ae0"/><rect x="576" y="12.3" width="14" height="1" fill="#3a78c8"/><polyline points="577,11 579,11 581,10 583,10.5 585,10 587,10.5 589,9.8" fill="none" stroke="#a02010" stroke-width="1"/><polyline points="577.5,16.5 579.5,15.5 581.5,16.3 583.5,15.3 585.5,14.5 588.5,16.8" fill="none" stroke="#10901a" stroke-width="1"/><polygon points="597.5,11 603.5,11 600.5,14" fill="#000"/><rect x="609" y="0" width="1" height="24" fill="#a0a0a0"/><rect x="610" y="0" width="1" height="24" fill="#ffffff"/><rect x="613" y="2" width="4" height="1" fill="#8a8a8a"/><rect x="613" y="4" width="4" height="1" fill="#8a8a8a"/><rect x="613" y="6" width="4" height="1" fill="#8a8a8a"/><rect x="613" y="8" width="4" height="1" fill="#8a8a8a"/><rect x="613" y="10" width="4" height="1" fill="#8a8a8a"/><rect x="613" y="12" width="4" height="1" fill="#8a8a8a"/><rect x="613" y="14" width="4" height="1" fill="#8a8a8a"/><rect x="613" y="16" width="4" height="1" fill="#8a8a8a"/><rect x="613" y="18" width="4" height="1" fill="#8a8a8a"/><rect x="613" y="20" width="4" height="1" fill="#8a8a8a"/><rect x="619" y="0" width="25" height="22" fill="url(#chk)"/><rect x="619" y="0" width="25" height="1" fill="#a0a0a0"/><rect x="619" y="0" width="1" height="22" fill="#a0a0a0"/><rect x="619" y="22" width="26" height="1" fill="#ffffff"/><rect x="644" y="0" width="1" height="23" fill="#ffffff"/><polygon points="627.3,4.9 627.3,15.8 629.8,13.6 632.2,18.8 634.2,17.9 631.8,12.8 635,12.6" fill="#4a4a4a"/><g fill="#404040"><rect x="652" y="12" width="6" height="1.3"/><rect x="661" y="12" width="6" height="1.3"/><rect x="659" y="5" width="1.3" height="6" /><rect x="659" y="14" width="1.3" height="6"/><rect x="659.2" y="12.2" width="0.9" height="0.9" fill="#808080"/></g><rect x="676" y="1" width="1" height="21" fill="#a0a0a0"/><rect x="677" y="1" width="1" height="21" fill="#ffffff"/><g fill="#404040"><rect x="693" y="6" width="1.4" height="13"/><rect x="716" y="12" width="12" height="1.4"/></g><line x1="744" y1="18.5" x2="755.8" y2="6.8" stroke="#404040" stroke-width="1.3"/><g stroke="#404040" stroke-width="1" fill="none"><line x1="770" y1="13.5" x2="777.5" y2="5.5"/><line x1="771" y1="17.5" x2="783.5" y2="5"/><line x1="774.5" y1="18.8" x2="784" y2="10"/><line x1="772" y1="12" x2="772" y2="18"/><line x1="775" y1="10" x2="775" y2="15"/><line x1="778.5" y1="8" x2="778.5" y2="13"/><line x1="781.5" y1="4" x2="781.5" y2="10"/></g><text x="780.6" y="21" font-family="'Liberation Sans', sans-serif" font-weight="bold" font-size="7px" fill="#303030">E</text><g fill="#404040"><rect x="799" y="5" width="1" height="1"/><rect x="801" y="5" width="1" height="1"/><rect x="803" y="5" width="1" height="1"/><rect x="805" y="5" width="1" height="1"/><rect x="807" y="5" width="1" height="1"/><rect x="809" y="5" width="1" height="1"/><rect x="811" y="5" width="1" height="1"/><rect x="799" y="8" width="1" height="1"/><rect x="801" y="8" width="1" height="1"/><rect x="803" y="8" width="1" height="1"/><rect x="805" y="8" width="1" height="1"/><rect x="807" y="8" width="1" height="1"/><rect x="809" y="8" width="1" height="1"/><rect x="811" y="8" width="1" height="1"/><rect x="799" y="12" width="1" height="1"/><rect x="801" y="12" width="1" height="1"/><rect x="803" y="12" width="1" height="1"/><rect x="805" y="12" width="1" height="1"/><rect x="807" y="12" width="1" height="1"/><rect x="809" y="12" width="1" height="1"/><rect x="811" y="12" width="1" height="1"/><rect x="799" y="16" width="1" height="1"/><rect x="801" y="16" width="1" height="1"/><rect x="803" y="16" width="1" height="1"/><rect x="805" y="16" width="1" height="1"/><rect x="807" y="16" width="1" height="1"/></g><text x="808.5" y="21" font-family="'Liberation Sans', sans-serif" font-weight="bold" font-size="7px" fill="#303030">F</text><text x="829.6" y="17" font-family="'Liberation Sans', sans-serif" font-size="12px" fill="#454545">A</text><g fill="#404040"><rect x="856" y="6" width="1" height="1"/><rect x="858" y="6" width="1" height="1"/><rect x="860" y="6" width="1" height="1"/><rect x="862" y="6" width="1" height="1"/><rect x="864" y="6" width="1" height="1"/><rect x="866" y="6" width="1" height="1"/><rect x="856" y="18" width="1" height="1"/><rect x="858" y="18" width="1" height="1"/><rect x="860" y="18" width="1" height="1"/><rect x="862" y="18" width="1" height="1"/><rect x="864" y="18" width="1" height="1"/><rect x="866" y="18" width="1" height="1"/><rect x="856" y="8" width="1" height="1"/><rect x="867" y="8" width="1" height="1"/><rect x="856" y="10" width="1" height="1"/><rect x="867" y="10" width="1" height="1"/><rect x="856" y="12" width="1" height="1"/><rect x="867" y="12" width="1" height="1"/><rect x="856" y="14" width="1" height="1"/><rect x="867" y="14" width="1" height="1"/><rect x="856" y="16" width="1" height="1"/><rect x="867" y="16" width="1" height="1"/><rect x="858" y="9" width="8" height="1.4"/><rect x="861.3" y="9" width="1.5" height="8"/><rect x="855" y="5" width="2" height="2"/></g><polygon points="883,9.5 886.5,6 890,9.5" fill="#505050"/><polyline points="885.5,13 887.5,15.3 892,10.3" fill="none" stroke="#505050" stroke-width="1.3"/><polygon points="890,14.5 897,14.5 893.5,18.8" fill="#505050"/><polygon points="904,11 910,11 907,14" fill="#000"/><rect x="915" y="0" width="1" height="24" fill="#a0a0a0"/><rect x="916" y="0" width="1" height="24" fill="#ffffff"/><rect x="919" y="2" width="4" height="1" fill="#8a8a8a"/><rect x="919" y="4" width="4" height="1" fill="#8a8a8a"/><rect x="919" y="6" width="4" height="1" fill="#8a8a8a"/><rect x="919" y="8" width="4" height="1" fill="#8a8a8a"/><rect x="919" y="10" width="4" height="1" fill="#8a8a8a"/><rect x="919" y="12" width="4" height="1" fill="#8a8a8a"/><rect x="919" y="14" width="4" height="1" fill="#8a8a8a"/><rect x="919" y="16" width="4" height="1" fill="#8a8a8a"/><rect x="919" y="18" width="4" height="1" fill="#8a8a8a"/><rect x="919" y="20" width="4" height="1" fill="#8a8a8a"/><rect x="1065" y="0" width="25" height="22" fill="url(#chk)"/><rect x="1065" y="0" width="25" height="1" fill="#a0a0a0"/><rect x="1065" y="0" width="1" height="22" fill="#a0a0a0"/><rect x="1065" y="22" width="26" height="1" fill="#ffffff"/><rect x="1090" y="0" width="1" height="23" fill="#ffffff"/><text x="930.5" y="16" font-family="'Liberation Sans', Arial, sans-serif" font-size="9.4px" fill="#3a3a3a">M1</text><text x="958.5" y="16" font-family="'Liberation Sans', Arial, sans-serif" font-size="9.4px" fill="#3a3a3a">M5</text><text x="984.5" y="16" font-family="'Liberation Sans', Arial, sans-serif" font-size="9.4px" fill="#3a3a3a">M15</text><text x="1012.5" y="16" font-family="'Liberation Sans', Arial, sans-serif" font-size="9.4px" fill="#3a3a3a">M30</text><text x="1043.5" y="16" font-family="'Liberation Sans', Arial, sans-serif" font-size="9.4px" fill="#3a3a3a">H1</text><text x="1070.5" y="16" font-family="'Liberation Sans', Arial, sans-serif" font-size="9.4px" fill="#3a3a3a">H4</text><text x="1099.5" y="16" font-family="'Liberation Sans', Arial, sans-serif" font-size="9.4px" fill="#3a3a3a">D1</text><text x="1127" y="16" font-family="'Liberation Sans', Arial, sans-serif" font-size="9.4px" fill="#3a3a3a">W1</text><text x="1153.5" y="16" font-family="'Liberation Sans', Arial, sans-serif" font-size="9.4px" fill="#3a3a3a">MN</text><rect x="1177" y="0" width="1" height="24" fill="#a0a0a0"/><rect x="1178" y="0" width="1" height="24" fill="#ffffff"/><circle cx="1646.6" cy="9.4" r="3.6" fill="#f4f6ff" stroke="#2a64d0" stroke-width="1.3"/><line x1="1644" y1="12" x2="1639.8" y2="16.3" stroke="#2a64d0" stroke-width="2.2" stroke-linecap="round"/><path d="M1667,18.5 L1666,20.5 L1670,18.8 Q1676,19 1676,14 Q1676,9.5 1670,9.5 Q1663,9.5 1663,14 Q1663,17 1667,18.5 Z" fill="#e4e6ee" stroke="#9a9a9a" stroke-width="0.8"/><circle cx="1677.6" cy="9.5" r="8.1" fill="#dd3520"/><text x="1677.6" y="13.6" text-anchor="middle" font-family="'Liberation Serif', serif" font-size="12px" fill="#ffffff">1</text></svg>
</body></html>
